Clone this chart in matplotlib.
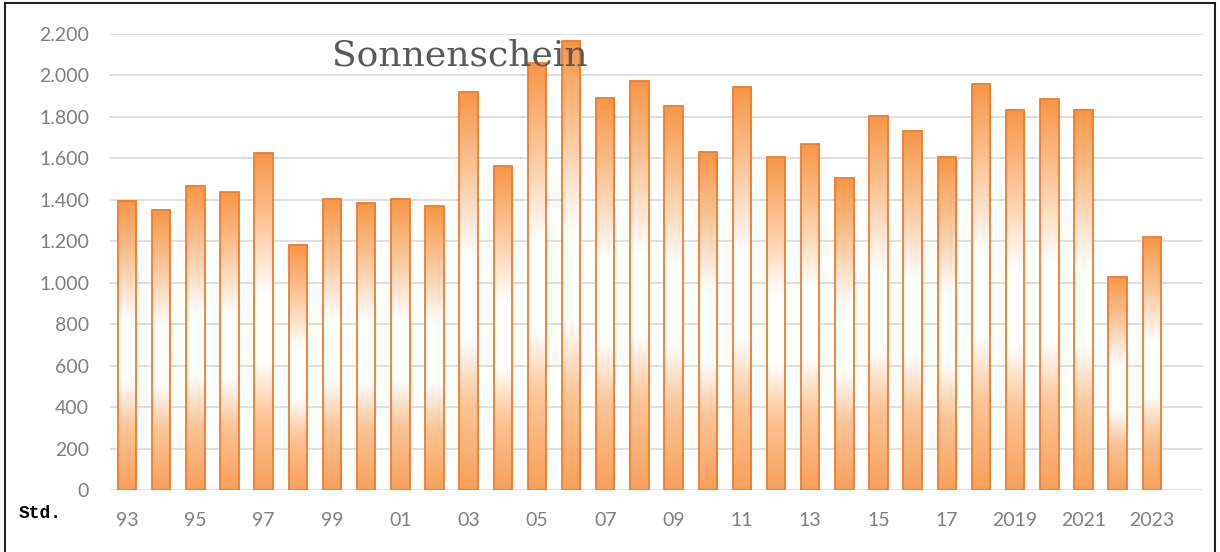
import numpy as np
import matplotlib
matplotlib.use("Agg")
import matplotlib.pyplot as plt
from matplotlib.colors import LinearSegmentedColormap
from matplotlib.patches import Rectangle
from matplotlib.ticker import FuncFormatter

years = list(range(1993, 2024))
hours = [1395, 1350, 1465, 1440, 1625, 1180, 1405, 1385, 1405, 1368,
         1922, 1564, 2060, 2166, 1893, 1975, 1853, 1632, 1945, 1606,
         1670, 1505, 1806, 1732, 1606, 1960, 1834, 1888, 1834, 1027,
         1220]
tick_years = [1993, 1995, 1997, 1999, 2001, 2003, 2005, 2007, 2009,
              2011, 2013, 2015, 2017, 2019, 2021, 2023]
tick_labels = ['93', '95', '97', '99', '01', '03', '05', '07', '09',
               '11', '13', '15', '17', '2019', '2021', '2023']

fig = plt.figure(figsize=(12.2, 5.52), dpi=100)
ax = fig.add_axes([110/1220, 1 - 490/552, (1203-110)/1220, (490-34)/552])

x = np.arange(len(years))
width = 0.54
grad = LinearSegmentedColormap.from_list(
    'sun', [(0, '#F8A05A'), (0.22, '#FBC699'), (0.38, '#FFFFFF'),
            (0.58, '#FFFFFF'), (0.8, '#FBC699'), (1, '#F79646')])
g = np.linspace(0, 1, 256).reshape(-1, 1)

bars = ax.bar(x, hours, width, facecolor='none', edgecolor='#ED7D31',
              linewidth=1.3, zorder=3)
for b in bars:
    x0, h = b.get_x(), b.get_height()
    im = ax.imshow(g, cmap=grad, aspect='auto', origin='lower',
                   extent=(x0, x0 + width, 0, h), zorder=2,
                   interpolation='bilinear')
    im.set_clip_path(b)

ax.set_xlim(-0.5, len(years) + 0.5)
ax.set_ylim(0, 2200)
ax.set_yticks(range(0, 2201, 200))
ax.yaxis.set_major_formatter(FuncFormatter(lambda v, p: f"{v:,.0f}".replace(",", ".")))
ax.set_xticks([years.index(y) for y in tick_years])
ax.set_xticklabels(tick_labels)
ax.grid(axis='y', color='#D9D9D9', linewidth=1.2, zorder=0)
ax.set_axisbelow(True)
for s in ax.spines.values():
    s.set_visible(False)
ax.tick_params(length=0, labelsize=14, labelcolor='#7F7F7F')
ax.tick_params(axis='y', pad=15)
ax.tick_params(axis='x', pad=16)
for lab in ax.get_xticklabels() + ax.get_yticklabels():
    lab.set_fontfamily('Lato')

fig.text(460/1220, 1 - 55/552, 'Sonnenschein', fontsize=26,
         family='DejaVu Serif', color='#595959', ha='center',
         va='center', zorder=10)
fig.text(19/1220, 1 - 513/552, 'Std.', fontsize=13, family='Liberation Mono',
         weight='bold', color='black', ha='left', va='center')

fig.patches.append(Rectangle((5/1220, -0.05), 1210/1220, 1.05 - 3/552,
                             transform=fig.transFigure, fill=False,
                             edgecolor='#202020', linewidth=1.5))

fig.savefig('out.png', dpi=100)
